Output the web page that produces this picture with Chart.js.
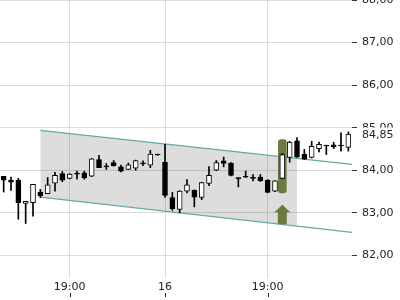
<!DOCTYPE html>
<html lang="de">
<head>
  <meta charset="UTF-8">
  <title>Kursverlauf</title>
  <script src="https://cdn.jsdelivr.net/npm/chart.js"></script>
  <style>
    body { margin: 0; background: #fff; }
    canvas { display: block; }
  </style>
</head>
<body>
  <canvas id="chart" width="400" height="300"></canvas>

  <script>
    // candle data, one entry per bar (index 0..47)
    const opens  = [83.86, 83.77, 83.77, 83.22, 83.24, 83.49, 83.45, 83.70, 83.92, 83.81,
                    83.93, 83.94, 83.86, 84.25, 84.10, 84.18, 84.08, 84.02, 84.05, 84.17,
                    84.12, 84.38, 84.19, 83.36, 83.08, 83.51, 83.53, 83.36, 83.69, 84.00,
                    84.22, 84.17, 83.83, 83.86, 83.83, 83.84, 83.77, 83.51, 83.81, 84.30,
                    84.69, 84.38, 84.30, 84.51, 84.59, 84.60, 84.59, 84.54];
    const highs  = [83.86, 83.84, 83.81, 83.27, 83.67, 83.55, 83.83, 83.95, 83.97, 83.92,
                    83.98, 83.98, 84.28, 84.35, 84.16, 84.23, 84.12, 84.17, 84.24, 84.22,
                    84.47, 84.38, 84.61, 83.48, 83.52, 83.78, 83.54, 83.72, 84.09, 84.23,
                    84.31, 84.18, 83.83, 83.98, 83.90, 83.90, 83.78, 83.76, 84.39, 84.68,
                    84.77, 84.49, 84.68, 84.66, 84.59, 84.66, 84.88, 84.90];
    const lows   = [83.49, 83.53, 82.85, 82.75, 82.92, 83.36, 83.45, 83.51, 83.73, 83.80,
                    83.79, 83.79, 83.85, 84.06, 84.02, 84.10, 83.96, 84.02, 84.00, 84.11,
                    84.06, 84.35, 83.36, 83.06, 83.00, 83.47, 83.14, 83.31, 83.64, 83.99,
                    84.08, 83.87, 83.61, 83.83, 83.75, 83.74, 83.47, 83.50, 83.80, 84.19,
                    84.30, 84.25, 84.29, 84.43, 84.37, 84.51, 84.45, 84.45];
    const closes = [83.77, 83.72, 83.24, 83.27, 83.67, 83.40, 83.66, 83.88, 83.77, 83.91,
                    83.91, 83.82, 84.27, 84.06, 84.08, 84.10, 83.98, 84.13, 84.23, 84.15,
                    84.38, 84.36, 83.41, 83.10, 83.51, 83.66, 83.37, 83.71, 83.88, 84.18,
                    84.16, 83.88, 83.80, 83.84, 83.81, 83.75, 83.48, 83.75, 84.37, 84.66,
                    84.31, 84.26, 84.56, 84.61, 84.57, 84.55, 84.57, 84.85];

    // x axis labels
    const tickIndex = [9, 22, 36];
    const tickText = ['19:00', '16', '19:00'];
    const yTicks = [82, 83, 84, 85, 86, 87, 88];

    // trend channel (bar index -> price)
    const channelX = [5, 40, 47.5];
    const channelUpper = [84.94, 84.28, 84.14];
    const channelLower = [83.37, 82.69, 82.54];

    // signal candle + arrow
    const signalIndex = 38;
    const signalRange = [83.47, 84.72];
    const arrowRange = [82.73, 83.19];

    const olive = '#6b7b40';
    const teal = '#64a9aa';
    const fmt = v => v.toFixed(2).replace('.', ',');

    Chart.defaults.font.family = 'DejaVu Sans';
    Chart.defaults.font.size = 11;
    Chart.defaults.color = '#222';

    const bodies = opens.map((o, i) => ({ x: i, y: [o, closes[i]] }));
    const wicks = lows.map((l, i) => ({ x: i, y: [l, highs[i]] }));

    const overlay = {
      id: 'overlay',
      afterDatasetsDraw(chart) {
        const { ctx, scales: { x, y } } = chart;
        const cx = x.getPixelForValue(signalIndex);
        const top = y.getPixelForValue(arrowRange[1]);
        const bot = y.getPixelForValue(arrowRange[0]);
        ctx.save();
        ctx.fillStyle = olive;
        ctx.beginPath();
        ctx.moveTo(cx, top);
        ctx.lineTo(cx + 8, top + 7.5);
        ctx.lineTo(cx + 4.5, top + 7.5);
        ctx.lineTo(cx + 4.5, bot);
        ctx.lineTo(cx - 4.5, bot);
        ctx.lineTo(cx - 4.5, top + 7.5);
        ctx.lineTo(cx - 8, top + 7.5);
        ctx.closePath();
        ctx.fill();
        ctx.restore();
      },
      afterDraw(chart) {
        const { ctx, chartArea, scales: { x, y } } = chart;
        ctx.save();
        // small tick marks below the time labels
        ctx.strokeStyle = '#222';
        ctx.lineWidth = 1;
        tickIndex.forEach(i => {
          const px = Math.round(x.getPixelForValue(i)) + 0.5;
          ctx.beginPath();
          ctx.moveTo(px, chartArea.bottom + 15);
          ctx.lineTo(px, chartArea.bottom + 19);
          ctx.stroke();
        });
        // last price label
        const last = closes[closes.length - 1];
        const yc = y.getPixelForValue(last);
        ctx.fillStyle = '#fff';
        ctx.fillRect(chartArea.right + 7, yc - 6.5, 48, 15);
        ctx.fillStyle = '#222';
        ctx.textBaseline = 'middle';
        ctx.textAlign = 'left';
        ctx.font = '11px "DejaVu Sans"';
        ctx.fillText(fmt(last), chartArea.right + 10, yc + 1);
        ctx.restore();
      }
    };

    new Chart(document.getElementById('chart').getContext('2d'), {
      type: 'bar',
      data: {
        datasets: [
          {
            type: 'line',
            data: channelX.slice(0, 2).map((cx, i) => ({ x: cx, y: channelUpper[i] })),
            backgroundColor: 'rgba(0,0,0,0.135)',
            borderWidth: 0,
            pointRadius: 0,
            fill: '+1',
            order: 10
          },
          {
            type: 'line',
            data: channelX.slice(0, 2).map((cx, i) => ({ x: cx, y: channelLower[i] })),
            borderWidth: 0,
            pointRadius: 0,
            fill: false,
            order: 10
          },
          {
            type: 'line',
            data: channelX.map((cx, i) => ({ x: cx, y: channelUpper[i] })),
            borderColor: teal,
            borderWidth: 1.3,
            pointRadius: 0,
            fill: false,
            order: 5
          },
          {
            type: 'line',
            data: channelX.map((cx, i) => ({ x: cx, y: channelLower[i] })),
            borderColor: teal,
            borderWidth: 1.3,
            pointRadius: 0,
            fill: false,
            order: 5
          },
          {
            data: [{ x: signalIndex, y: signalRange }],
            backgroundColor: olive,
            barThickness: 8,
            borderRadius: 3,
            borderSkipped: false,
            grouped: false,
            order: 3
          },
          {
            data: wicks,
            backgroundColor: '#000',
            barThickness: 1,
            grouped: false,
            order: 2
          },
          {
            data: bodies,
            backgroundColor: opens.map((o, i) => closes[i] > o ? '#fff' : '#000'),
            borderColor: '#000',
            borderWidth: 1,
            borderSkipped: false,
            barThickness: 5,
            minBarLength: 1,
            grouped: false,
            order: 1
          }
        ]
      },
      options: {
        responsive: false,
        animation: false,
        layout: { padding: 0 },
        plugins: { legend: { display: false }, tooltip: { enabled: false } },
        scales: {
          x: {
            type: 'linear',
            min: -0.5,
            max: 47.5,
            offset: false,
            afterBuildTicks: s => { s.ticks = tickIndex.map(v => ({ value: v })); },
            afterFit: s => { s.height = 22; s.paddingLeft = 0; s.paddingRight = 0; },
            ticks: {
              padding: 3,
              maxRotation: 0,
              autoSkip: false,
              callback: v => tickText[tickIndex.indexOf(v)] ?? ''
            },
            grid: { color: '#dcdcdc', drawTicks: false, offset: false },
            border: { display: false }
          },
          y: {
            position: 'right',
            min: 81.47,
            max: 88,
            beginAtZero: false,
            afterBuildTicks: s => { s.ticks = yTicks.map(v => ({ value: v })); },
            afterFit: s => { s.width = 48; s.paddingTop = 0; s.paddingBottom = 0; },
            ticks: { padding: 5, callback: v => fmt(v) },
            grid: { color: '#dcdcdc', tickColor: '#333', tickLength: 5 },
            border: { display: false }
          }
        }
      },
      plugins: [overlay]
    });
  </script>
</body>
</html>
